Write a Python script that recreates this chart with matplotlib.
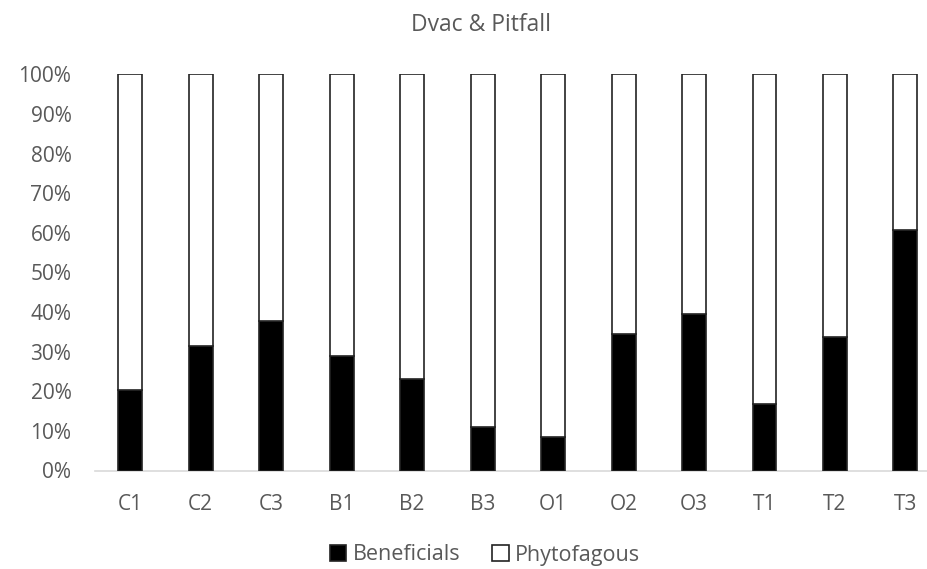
import numpy as np
import matplotlib
matplotlib.use("Agg")
from matplotlib import pyplot as plt
from matplotlib.ticker import FuncFormatter

plt.rcParams['font.family'] = ['Open Sans', 'DejaVu Sans']

sites = ['C1', 'C2', 'C3', 'B1', 'B2', 'B3', 'O1', 'O2', 'O3', 'T1', 'T2', 'T3']
beneficials = [20.3, 31.3, 37.7, 28.9, 23.0, 11.0, 8.5, 34.5, 39.6, 16.9, 33.8, 60.7]
phytofagous = [100 - b for b in beneficials]

txt = '#595959'

fig = plt.figure(figsize=(9.28, 5.69), dpi=100)
ax = fig.add_axes([95/928, 1 - 470.5/569, (928 - 95)/928, (470.5 - 74.3)/569])

x = np.arange(len(sites))
w = 0.34
ax.bar(x, beneficials, w, color='black', edgecolor='#222222', linewidth=1.2,
       label='Beneficials', zorder=3)
ax.bar(x, phytofagous, w, bottom=beneficials, color='white', edgecolor='#222222',
       linewidth=1.2, label='Phytofagous', zorder=3)

ax.set_xlim(-0.5, 11.32)
ax.set_ylim(0, 100)
ax.set_yticks(np.arange(0, 101, 10))
ax.yaxis.set_major_formatter(FuncFormatter(lambda v, p: f'{int(v)}%'))
ax.set_xticks(x)
ax.set_xticklabels(sites)

for s in ['top', 'right', 'left']:
    ax.spines[s].set_visible(False)
ax.spines['bottom'].set_color('#d9d9d9')
ax.spines['bottom'].set_linewidth(1.2)
ax.tick_params(axis='y', length=0, pad=17, labelsize=15, labelcolor=txt)
ax.tick_params(axis='x', length=0, pad=17, labelsize=15, labelcolor=txt)

fig.text(481/928, 1 - 25/569, 'Dvac & Pitfall', ha='center', va='center',
         fontsize=16.5, color=txt)

fig.legend(loc='center', bbox_to_anchor=(485/928, 1 - 555/569), ncol=2, frameon=False,
           fontsize=15.5, labelcolor=txt, handlelength=0.75, handleheight=0.75,
           handletextpad=0.3, columnspacing=1.5, borderpad=0)

fig.savefig('out.png', dpi=100)
